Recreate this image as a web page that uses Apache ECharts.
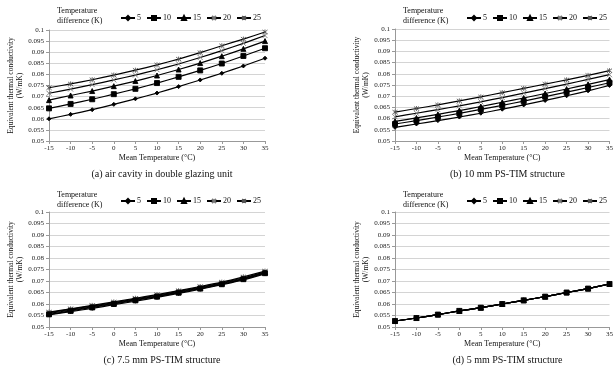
<!DOCTYPE html>
<html>
<head>
<meta charset="utf-8">
<script src="https://cdn.jsdelivr.net/npm/echarts@6/dist/echarts.min.js"></script>
<style>
    html, body { margin: 0; padding: 0; background: #fff; }
    #chart { width: 616px; height: 367px; }
</style>
</head>
<body>
<div id="chart"></div>
<script>
    // mean temperature (x axis)
    let temps = ['-15', '-10', '-5', '0', '5', '10', '15', '20', '25', '30', '35'];
    // temperature difference (K) series names
    let deltaT = ['5', '10', '15', '20', '25'];
    let yTicks = [0.05, 0.1, 0.005];

    // (a) air cavity in double glazing unit
    let airCavity = [
        [0.0600, 0.0620, 0.0641, 0.0665, 0.0690, 0.0716, 0.0745, 0.0775, 0.0805, 0.0838, 0.0873],
        [0.0647, 0.0667, 0.0688, 0.0711, 0.0735, 0.0761, 0.0789, 0.0818, 0.0849, 0.0883, 0.0918],
        [0.0684, 0.0705, 0.0725, 0.0747, 0.0770, 0.0795, 0.0822, 0.0851, 0.0882, 0.0915, 0.0950],
        [0.0715, 0.0734, 0.0754, 0.0775, 0.0797, 0.0821, 0.0847, 0.0876, 0.0907, 0.0940, 0.0975],
        [0.0740, 0.0757, 0.0776, 0.0797, 0.0819, 0.0843, 0.0869, 0.0898, 0.0929, 0.0959, 0.0991]
    ];
    // (b) 10 mm PS-TIM
    let tim10 = [
        [0.0561, 0.0576, 0.0591, 0.0607, 0.0624, 0.0642, 0.0661, 0.0681, 0.0702, 0.0724, 0.0748],
        [0.0576, 0.0591, 0.0607, 0.0623, 0.0641, 0.0659, 0.0678, 0.0698, 0.0718, 0.0739, 0.0760],
        [0.0588, 0.0603, 0.0619, 0.0636, 0.0654, 0.0673, 0.0692, 0.0712, 0.0732, 0.0753, 0.0774],
        [0.0608, 0.0624, 0.0640, 0.0657, 0.0675, 0.0694, 0.0714, 0.0734, 0.0754, 0.0775, 0.0796],
        [0.0629, 0.0645, 0.0661, 0.0679, 0.0697, 0.0716, 0.0735, 0.0754, 0.0773, 0.0793, 0.0814]
    ];
    // (c) 7.5 mm PS-TIM
    let tim75 = [
        [0.0553, 0.0567, 0.0581, 0.0597, 0.0612, 0.0629, 0.0646, 0.0664, 0.0684, 0.0705, 0.0731],
        [0.0555, 0.0570, 0.0585, 0.0600, 0.0616, 0.0632, 0.0649, 0.0667, 0.0686, 0.0708, 0.0734],
        [0.0559, 0.0573, 0.0588, 0.0603, 0.0619, 0.0634, 0.0652, 0.0670, 0.0689, 0.0711, 0.0737],
        [0.0562, 0.0577, 0.0591, 0.0606, 0.0622, 0.0638, 0.0655, 0.0673, 0.0692, 0.0714, 0.0740],
        [0.0565, 0.0579, 0.0594, 0.0609, 0.0625, 0.0641, 0.0658, 0.0676, 0.0695, 0.0718, 0.0743]
    ];
    // (d) 5 mm PS-TIM (all five curves coincide)
    let tim5 = [
        [0.0526, 0.0539, 0.0554, 0.0570, 0.0584, 0.0600, 0.0616, 0.0632, 0.0650, 0.0667, 0.0687],
        [0.0526, 0.0539, 0.0554, 0.0570, 0.0584, 0.0600, 0.0616, 0.0632, 0.0650, 0.0667, 0.0687],
        [0.0526, 0.0539, 0.0554, 0.0570, 0.0584, 0.0600, 0.0616, 0.0632, 0.0650, 0.0667, 0.0687],
        [0.0526, 0.0539, 0.0554, 0.0570, 0.0584, 0.0600, 0.0616, 0.0632, 0.0650, 0.0667, 0.0687],
        [0.0526, 0.0539, 0.0554, 0.0570, 0.0584, 0.0600, 0.0616, 0.0632, 0.0650, 0.0667, 0.0687]
    ];
    let captions = [
        '(a) air cavity in double glazing unit',
        '(b) 10 mm PS-TIM structure',
        '(c) 7.5 mm PS-TIM structure',
        '(d) 5 mm PS-TIM structure'
    ];

    let font = 'Liberation Serif';
    let markers = [
        {symbol: 'diamond', size: 4, color: '#000'},
        {symbol: 'rect', size: 5, color: '#000'},
        {symbol: 'triangle', size: 5, color: '#000'},
        {symbol: 'path://M0,0L10,10M10,0L0,10', size: 5, color: '#777'},
        {symbol: 'path://M1,1L9,9M9,1L1,9M5,0L5,10', size: 5, color: '#555'}
    ];

    // panel boxes: [left, top, width, height]
    let boxes = [
        [49, 30, 216, 111],
        [395, 29, 215, 112],
        [49, 212, 216, 115],
        [395, 212, 215, 115]
    ];
    let panels = [airCavity, tim10, tim75, tim5];

    let myChart = echarts.init(document.getElementById('chart'));

    let grid = [], xAxis = [], yAxis = [], series = [], legend = [], title = [];
    boxes.forEach((b, i)=> {
        let upper = i < 2;
        grid.push({left: b[0], top: b[1], width: b[2], height: b[3], show: false});
        xAxis.push({
            type: 'category', gridIndex: i, data: temps, boundaryGap: false,
            name: 'Mean Temperature (°C)', nameLocation: 'middle', nameGap: 13,
            nameTextStyle: {fontFamily: font, fontSize: 8, color: '#111'},
            axisLine: {onZero: false, lineStyle: {color: '#999'}},
            axisTick: {show: true, length: 3, lineStyle: {color: '#999'}},
            axisLabel: {fontFamily: font, fontSize: 7, color: '#222', margin: 4, interval: 0},
            axisPointer: {show: false},
            splitLine: {show: false},
            splitArea: {show: false}
        });
        yAxis.push({
            type: 'value', gridIndex: i, min: yTicks[0], max: yTicks[1], interval: yTicks[2],
            name: 'Equivalent thermal conductivity\n(W/mK)', nameLocation: 'middle', nameGap: 20,
            nameTextStyle: {fontFamily: font, fontSize: 7.5, color: '#111', lineHeight: 9},
            axisLine: {show: true, onZero: false, lineStyle: {color: '#999'}},
            axisTick: {show: true, length: 3, lineStyle: {color: '#999'}},
            axisLabel: {fontFamily: font, fontSize: 7, color: '#222', margin: 5,
                formatter: (v)=> String(+v.toFixed(3))},
            axisPointer: {show: false},
            splitLine: {show: true, lineStyle: {color: '#d4d4d4', width: 1}}
        });
        panels[i].forEach((vals, k)=> {
            series.push({
                name: deltaT[k], type: 'line', xAxisIndex: i, yAxisIndex: i,
                data: vals,
                smooth: 0.2,
                symbol: markers[k].symbol, symbolSize: markers[k].size,
                z: k === 1 ? 3 : 2,
                lineStyle: {color: '#000', width: 1.2},
                itemStyle: {color: markers[k].color, borderColor: markers[k].color, borderWidth: 0.9}
            });
        });
        legend.push({
            data: deltaT, left: b[0] + 66, top: upper ? 9 : 192, width: 160,
            itemWidth: 14, itemHeight: 5, itemGap: 5,
            textStyle: {fontFamily: font, fontSize: 8, color: '#111', padding: [0, 0, 0, -3]}
        });
        title.push({
            text: 'Temperature\ndifference (K)', left: b[0] + 3, top: upper ? 1 : 185,
            textStyle: {fontFamily: font, fontSize: 8, fontWeight: 'normal', color: '#111', lineHeight: 10}
        });
        title.push({
            text: captions[i], left: b[0] + b[2] / 2, textAlign: 'center', top: b[1] + b[3] + 23,
            textStyle: {fontFamily: font, fontSize: 10, fontWeight: 'normal', color: '#111'}
        });
    });

    let option = {
        animation: false,
        backgroundColor: '#fff',
        tooltip: {show: false},
        axisPointer: {show: false},
        title: title,
        legend: legend,
        grid: grid,
        xAxis: xAxis,
        yAxis: yAxis,
        series: series
    };
    myChart.setOption(option);
</script>
</body>
</html>
